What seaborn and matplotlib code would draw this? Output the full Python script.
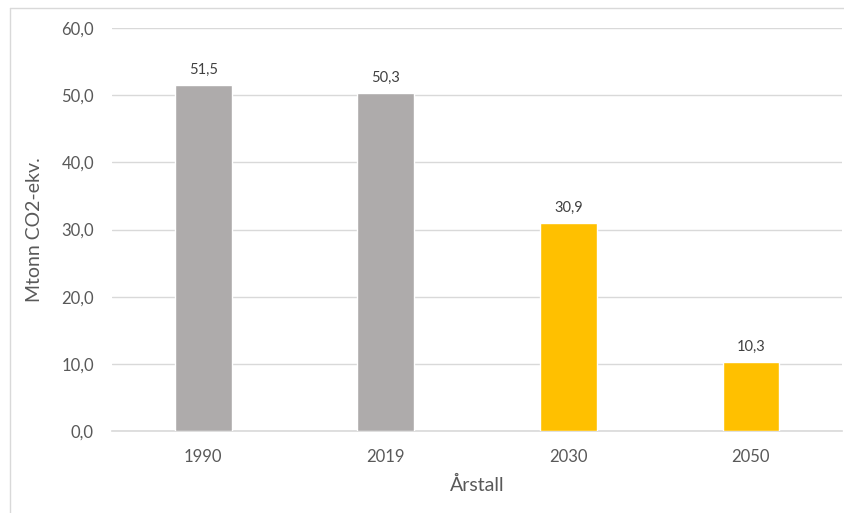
import pandas as pd
import matplotlib.pyplot as plt
import seaborn as sns
from matplotlib.lines import Line2D

# Data
aar = ['1990', '2019', '2030', '2050']
utslipp = [51.5, 50.3, 30.9, 10.3]
type_ = ['historisk', 'historisk', 'mål', 'mål']
farger = {'historisk': '#AEABAB', 'mål': '#FFC000'}

df = pd.DataFrame({'aar': aar, 'utslipp': utslipp, 'type': type_})

sns.set_style('white')
plt.rcParams['font.family'] = ['Lato', 'DejaVu Sans']

fig = plt.figure(figsize=(8.44, 5.13), dpi=100)
ax = fig.add_axes([0.1327, 0.1598, 0.865, 0.7856])

sns.barplot(data=df, x='aar', y='utslipp', hue='type', palette=farger,
            width=0.31, dodge=False, legend=False, saturation=1, ax=ax, zorder=3)

ax.set_ylim(0, 60)
ax.set_yticks(range(0, 61, 10))
ax.set_yticklabels([f'{v:.1f}'.replace('.', ',') for v in range(0, 61, 10)])
ax.grid(axis='y', color='#D9D9D9', linewidth=1, zorder=0)
for s in ['top', 'right', 'left']:
    ax.spines[s].set_visible(False)
ax.spines['bottom'].set_color('#D9D9D9')
ax.spines['bottom'].set_linewidth(1.2)
ax.tick_params(axis='both', length=0, labelsize=12, colors='#595959')
ax.tick_params(axis='y', pad=13)
ax.tick_params(axis='x', pad=13)

for p, v in zip(ax.patches, utslipp):
    ax.annotate(f'{v:.1f}'.replace('.', ','),
                (p.get_x() + p.get_width() / 2, p.get_height()),
                xytext=(0, 6), textcoords='offset points',
                ha='center', va='bottom', fontsize=10.5, color='#404040')

ax.set_xlabel('Årstall', fontsize=14, color='#595959', labelpad=8)
ax.set_ylabel('Mtonn CO2-ekv.', fontsize=14, color='#595959', labelpad=13)

# ramme rundt diagrammet
fig.add_artist(Line2D([10 / 844, 10 / 844], [0, 1 - 8 / 513], color='#D9D9D9', lw=1))
fig.add_artist(Line2D([10 / 844, 1], [1 - 8 / 513, 1 - 8 / 513], color='#D9D9D9', lw=1))

fig.savefig('out.png', dpi=100)
